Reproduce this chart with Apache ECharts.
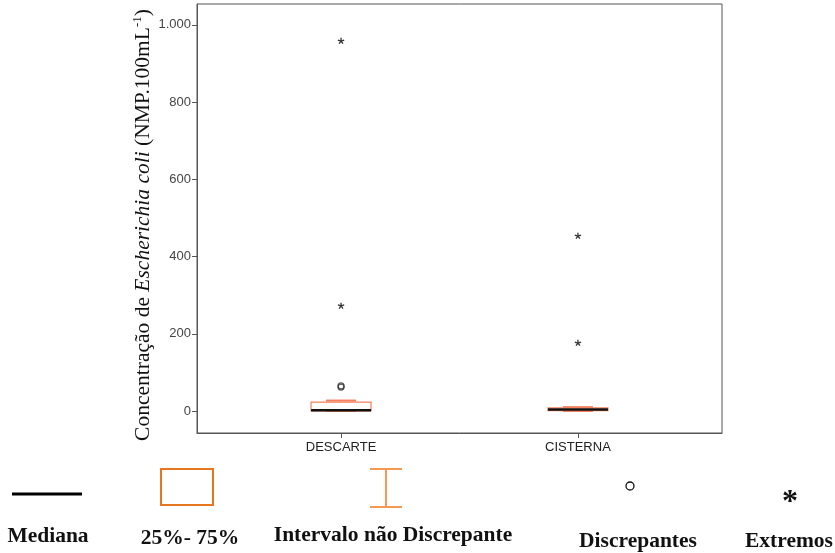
<!DOCTYPE html>
<html>
<head>
<meta charset="utf-8">
<script src="https://cdn.jsdelivr.net/npm/echarts@6/dist/echarts.min.js"></script>
<style>html,body{margin:0;padding:0;background:#fff;}#c{width:835px;height:553px;}</style>
</head>
<body>
<div id="c"></div>
<script>
// ---- data ----
var categories = ['DESCARTE', 'CISTERNA'];
var categoryPos = [1, 2];
// [lower whisker, Q1, median, Q3, upper whisker]
var boxStats = [
  [0, 0, 2, 23, 27],
  [0, 1, 4, 8, 10]
];
// outliers: [categoryIndex, value]
var outliers = [[0, 62], [0, 65]];
// extremes: [categoryIndex, value]
var extremes = [[0, 958], [0, 272], [1, 453], [1, 176]];
var yTicks = [0, 200, 400, 600, 800, 1000];

var chart = echarts.init(document.getElementById('c'));
var boxColor = '#f4805e';
var sansFont = '"Liberation Sans", Arial, sans-serif';
var serifFont = '"Liberation Serif", "Times New Roman", serif';

function fmtThousands(v) {
  return String(v).replace(/\B(?=(\d{3})+(?!\d))/g, '.');
}

var boxData = boxStats.map(function (s, i) { return [categoryPos[i]].concat(s); });
var outData = outliers.map(function (o) { return [categoryPos[o[0]], o[1]]; });
var extData = extremes.map(function (o) { return [categoryPos[o[0]], o[1]]; });

var legendText = { fontFamily: serifFont, fontWeight: 'bold', fontSize: 21.5, fill: '#111', align: 'center', verticalAlign: 'middle' };
function lt(txt) { return Object.assign({ text: txt }, legendText); }

var option = {
  animation: false,
  backgroundColor: '#fff',
  grid: { left: 197, right: 113, top: 4, bottom: 120, show: true, borderColor: '#555', borderWidth: 1, backgroundColor: 'transparent' },
  xAxis: {
    type: 'value', min: 0.392, max: 2.608,
    splitLine: { show: false },
    axisLine: { show: true, onZero: false, lineStyle: { color: '#555', width: 1 } },
    axisTick: { show: true, customValues: categoryPos, length: 5, lineStyle: { color: '#555' } },
    axisLabel: {
      customValues: categoryPos, margin: 8, color: '#222', fontSize: 13, fontFamily: sansFont,
      formatter: function (v) { var i = categoryPos.indexOf(Math.round(v)); return i >= 0 ? categories[i] : ''; }
    }
  },
  yAxis: {
    type: 'value', min: -57, max: 1054,
    splitLine: { show: false },
    axisLine: { show: true, onZero: false, lineStyle: { color: '#555', width: 1 } },
    axisTick: { show: true, customValues: yTicks, length: 5, lineStyle: { color: '#555' } },
    axisLabel: {
      customValues: yTicks, margin: 6, color: '#444', fontSize: 13, fontFamily: sansFont,
      formatter: function (v) { return fmtThousands(v); }
    }
  },
  series: [
    {
      type: 'custom',
      data: boxData,
      encode: { x: 0, y: [1, 2, 3, 4, 5] },
      renderItem: function (params, api) {
        var x = api.value(0);
        var lo = api.coord([x, api.value(1)]);
        var q1 = api.coord([x, api.value(2)]);
        var med = api.coord([x, api.value(3)]);
        var q3 = api.coord([x, api.value(4)]);
        var hi = api.coord([x, api.value(5)]);
        var cx = q1[0];
        var bw = 30, cw = 15;
        return {
          type: 'group',
          children: [
            { type: 'line', shape: { x1: cx, y1: q3[1], x2: cx, y2: hi[1] }, style: { stroke: boxColor, lineWidth: 1 } },
            { type: 'line', shape: { x1: cx, y1: q1[1], x2: cx, y2: lo[1] }, style: { stroke: boxColor, lineWidth: 1 } },
            { type: 'line', shape: { x1: cx - cw, y1: hi[1], x2: cx + cw, y2: hi[1] }, style: { stroke: boxColor, lineWidth: 2 } },
            { type: 'line', shape: { x1: cx - cw, y1: lo[1], x2: cx + cw, y2: lo[1] }, style: { stroke: boxColor, lineWidth: 2 } },
            { type: 'rect', shape: { x: cx - bw, y: q3[1], width: bw * 2, height: Math.max(q1[1] - q3[1], 1) }, style: { fill: '#fff', stroke: boxColor, lineWidth: 1.2 } },
            { type: 'line', shape: { x1: cx - bw, y1: med[1], x2: cx + bw, y2: med[1] }, style: { stroke: '#111', lineWidth: 2.5 } }
          ]
        };
      },
      z: 2
    },
    {
      type: 'scatter',
      data: outData,
      symbol: 'circle', symbolSize: 6,
      itemStyle: { color: 'transparent', borderColor: '#333', borderWidth: 1.3 },
      z: 3
    },
    {
      type: 'custom',
      data: extData,
      renderItem: function (params, api) {
        var p = api.coord([api.value(0), api.value(1)]);
        var r = 3.3, ch = [];
        for (var k = 0; k < 5; k++) {
          var a = -Math.PI / 2 + k * 2 * Math.PI / 5;
          ch.push({ type: 'line', shape: { x1: p[0], y1: p[1], x2: p[0] + r * Math.cos(a), y2: p[1] + r * Math.sin(a) }, style: { stroke: '#333', lineWidth: 1.3 } });
        }
        return { type: 'group', children: ch };
      },
      z: 3
    }
  ],
  graphic: [
    {
      type: 'text', x: 143, y: 225, rotation: Math.PI / 2,
      style: {
        text: '{n|Concentração de }{i|Escherichia coli}{n| (NMP.100mL}{s|-1}{n|)}',
        align: 'center', verticalAlign: 'middle',
        rich: {
          n: { fontFamily: serifFont, fontSize: 21.5, fill: '#111', lineHeight: 24 },
          i: { fontFamily: serifFont, fontSize: 21.5, fontStyle: 'italic', fill: '#111', lineHeight: 24 },
          s: { fontFamily: serifFont, fontSize: 13, fill: '#111', lineHeight: 24, verticalAlign: 'top', padding: [0, 0, 8, 0] }
        }
      }
    },
    // legend
    { type: 'line', shape: { x1: 12, y1: 494, x2: 82, y2: 494 }, style: { stroke: '#000', lineWidth: 3 } },
    { type: 'rect', shape: { x: 161, y: 469, width: 52, height: 36 }, style: { fill: '#fff', stroke: '#e8761e', lineWidth: 2 } },
    { type: 'line', shape: { x1: 370, y1: 469, x2: 402, y2: 469 }, style: { stroke: '#f59a4f', lineWidth: 2 } },
    { type: 'line', shape: { x1: 370, y1: 507, x2: 402, y2: 507 }, style: { stroke: '#f59a4f', lineWidth: 2 } },
    { type: 'line', shape: { x1: 386, y1: 469, x2: 386, y2: 507 }, style: { stroke: '#f59a4f', lineWidth: 2 } },
    { type: 'circle', shape: { cx: 630, cy: 486, r: 4 }, style: { fill: 'none', stroke: '#111', lineWidth: 1.3 } },
    { type: 'text', x: 790, y: 503, style: { text: '*', fontFamily: serifFont, fontWeight: 'bold', fontSize: 32, fill: '#111', align: 'center', verticalAlign: 'middle' } },
    { type: 'text', x: 48, y: 536, style: lt('Mediana') },
    { type: 'text', x: 190, y: 538, style: lt('25%- 75%') },
    { type: 'text', x: 393, y: 535, style: lt('Intervalo não Discrepante') },
    { type: 'text', x: 638, y: 541, style: lt('Discrepantes') },
    { type: 'text', x: 789, y: 541, style: lt('Extremos') }
  ]
};
chart.setOption(option);
</script>
</body>
</html>
